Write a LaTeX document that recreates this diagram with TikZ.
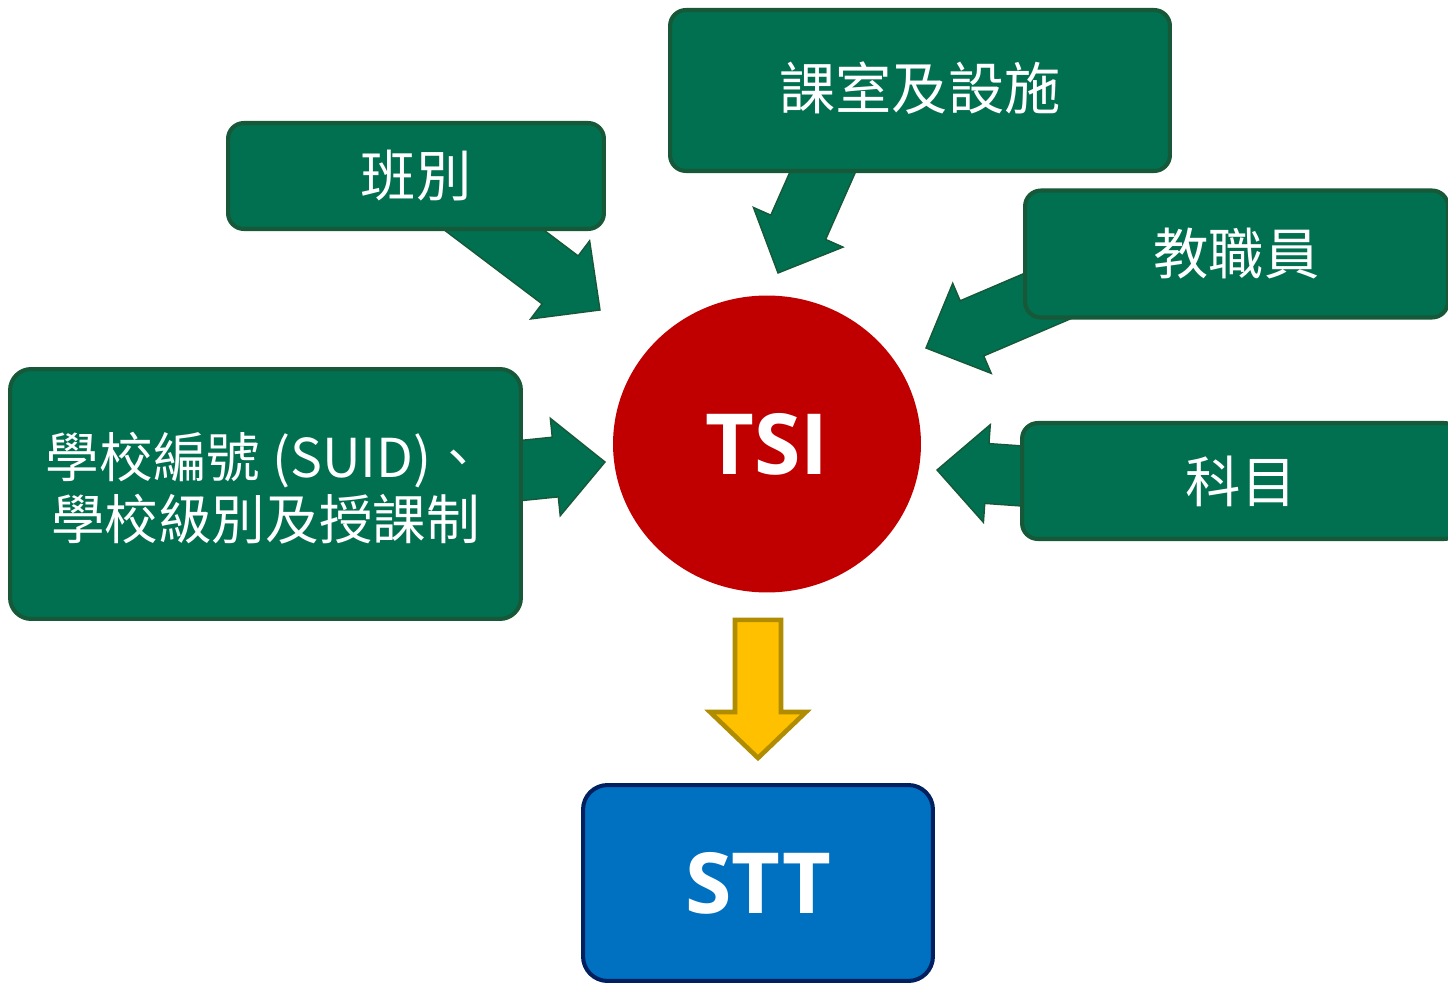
\documentclass[tikz,border=0pt]{standalone}
\usepackage{fontspec}
\setmainfont{Noto Sans CJK TC}
\newfontfamily\latinfont{Open Sans}
\usetikzlibrary{calc}
\usetikzlibrary{shapes.geometric}
\usetikzlibrary{backgrounds}

\definecolor{boxgreen}{RGB}{0,112,80}
\definecolor{edgegreen}{RGB}{22,88,56}
\definecolor{tsired}{RGB}{192,0,0}
\definecolor{arrowgold}{RGB}{255,192,0}
\definecolor{edgegold}{RGB}{176,140,0}
\definecolor{sttblue}{RGB}{0,112,192}
\definecolor{edgenavy}{RGB}{0,32,96}

% block arrow: style, from, to, shaft half width, head half width, head length
\newcommand{\blockarrow}[6]{%
  \coordinate (ba-b) at ($(#3)!#6!(#2)$);
  \filldraw[#1] ($(#2)!#4!90:(#3)$) -- ($(ba-b)!#4!90:(#3)$) -- ($(ba-b)!#5!90:(#3)$)
    -- (#3) -- ($(ba-b)!#5!-90:(#3)$) -- ($(ba-b)!#4!-90:(#3)$) -- ($(#2)!#4!-90:(#3)$) -- cycle;
}

\tikzset{
  greenbox/.style={draw=edgegreen, fill=boxgreen, line width=2.3pt, rounded corners=9pt,
    text=white, inner sep=0pt, align=center, font=\fontsize{31.5}{36}\selectfont},
  greenarrow/.style={fill=boxgreen, draw=edgegreen, line width=0.8pt, line join=miter},
}

\begin{document}
\begin{tikzpicture}[x=0.02cm, y=-0.02cm]
\useasboundingbox (0,0) rectangle (1448,983);
\clip (0,0) rectangle (1448,983);

\node[greenbox, minimum width=7.52cm, minimum height=2.12cm] (ban) at (416,176) {班別};
\node[greenbox, minimum width=10cm, minimum height=3.22cm,
  font=\fontsize{32}{36}\selectfont] (room) at (920,90.5) {\raisebox{5.5pt}{課室及設施}};
\node[greenbox, minimum width=8.46cm, minimum height=2.54cm] (staff) at (1236.5,254) {教職員};
\node[greenbox, minimum width=8.76cm, minimum height=2.32cm] (subj) at (1241,481) {科目};
\node[greenbox, minimum width=10.22cm, minimum height=5cm, rounded corners=12pt,
  font=\fontsize{30.5}{31.5}\selectfont] (school) at (265.5,494)
  {\raisebox{4pt}{\begin{tabular}{@{}c@{}}學校編號 (SUID)、\\學校級別及授課制\end{tabular}}};

\node[ellipse, fill=tsired, minimum width=6.16cm, minimum height=5.94cm, inner sep=0pt,
  text=white, font=\latinfont\bfseries\fontsize{48}{52}\selectfont] (tsi) at (767,444) {TSI};

\node[draw=edgenavy, fill=sttblue, line width=2.3pt, rounded corners=14pt,
  minimum width=7cm, minimum height=3.92cm, inner sep=0pt, text=white,
  font=\latinfont\bfseries\fontsize{48}{52}\selectfont] (stt) at (758,883) {STT};

% arrow ends
\coordinate (ban-s) at ($(ban.south)+(41,-29)$);
\coordinate (room-s) at ($(room.south)+(-84,-31)$);
\coordinate (staff-s) at ($(staff.west)+(41,35)$);
\coordinate (subj-s) at ($(subj.west)+(45,-2)$);
\coordinate (school-s) at ($(school.east)+(-46,-19)$);
\coordinate (ban-t) at ($(tsi.center)+(-167,-134)$);
\coordinate (room-t) at ($(tsi.center)+(11,-171)$);
\coordinate (staff-t) at ($(tsi.center)+(159,-96)$);
\coordinate (subj-t) at ($(tsi.center)+(170,26)$);
\coordinate (school-t) at ($(tsi.center)+(-162,18)$);
\coordinate (tsi-s) at ($(tsi.south)+(-9,27)$);
\coordinate (stt-t) at ($(stt.north)+(0,-25)$);

\begin{scope}[on background layer]
\foreach \n in {ban,room,staff,subj,school} {
  \blockarrow{greenarrow}{\n-s}{\n-t}{0.6cm}{0.98cm}{1cm}
}
\end{scope}
\blockarrow{fill=arrowgold, draw=edgegold, line width=2.6pt, line join=miter}{tsi-s}{stt-t}{0.46cm}{0.96cm}{0.92cm}

\end{tikzpicture}
\end{document}
